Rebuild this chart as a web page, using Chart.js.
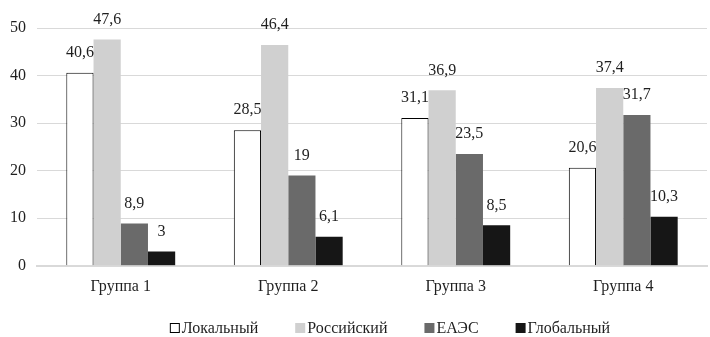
<!DOCTYPE html>
<html>
<head>
<meta charset="utf-8">
<script src="https://cdn.jsdelivr.net/npm/chart.js@4.4.1/dist/chart.umd.min.js"></script>
<style>
  html, body { margin: 0; padding: 0; background: #fff; }
  #wrap { width: 710px; height: 337px; }
</style>
</head>
<body>
<div id="wrap"><canvas id="c" width="710" height="337"></canvas></div>
<script>
// Categories and series
const groups = ['Группа 1', 'Группа 2', 'Группа 3', 'Группа 4'];
const seriesNames = ['Локальный', 'Российский', 'ЕАЭС', 'Глобальный'];
const localValues = [40.6, 28.5, 31.1, 20.6];
const russianValues = [47.6, 46.4, 36.9, 37.4];
const eaeuValues = [8.9, 19, 23.5, 31.7];
const globalValues = [3, 6.1, 8.5, 10.3];
const yTicks = [0, 10, 20, 30, 40, 50];

const FONT = '"Liberation Serif", "Times New Roman", serif';
const TEXT = '#1f1f1f';

const fmt = v => String(v).replace('.', ',');

// Value labels above each bar
const valueLabels = {
  id: 'valueLabels',
  afterDatasetsDraw(chart) {
    const ctx = chart.ctx;
    ctx.save();
    ctx.font = '16px ' + FONT;
    ctx.fillStyle = TEXT;
    ctx.textAlign = 'center';
    ctx.textBaseline = 'middle';
    chart.data.datasets.forEach((ds, i) => {
      chart.getDatasetMeta(i).data.forEach((bar, j) => {
        ctx.fillText(fmt(ds.data[j]), bar.x, bar.y - 20);
      });
    });
    ctx.restore();
  }
};

// Legend row along the bottom edge
const bottomLegend = {
  id: 'bottomLegend',
  afterDraw(chart) {
    const ctx = chart.ctx;
    const box = 10, gapText = 2, gapItem = 37;
    ctx.save();
    ctx.font = '16px ' + FONT;
    ctx.textBaseline = 'middle';
    const items = chart.data.datasets.map(ds => ({
      label: ds.label, fill: ds.backgroundColor,
      w: box + gapText + ctx.measureText(ds.label).width
    }));
    const total = items.reduce((s, it) => s + it.w, 0) + gapItem * (items.length - 1);
    let x = 390 - total / 2;
    const cy = 328;
    items.forEach(it => {
      ctx.fillStyle = it.fill;
      ctx.fillRect(x, cy - box / 2, box, box);
      if (it.fill === '#ffffff') {
        ctx.strokeStyle = '#000';
        ctx.lineWidth = 1;
        ctx.strokeRect(x + 0.5, cy - box / 2 + 0.5, box - 1, box - 1);
      }
      ctx.fillStyle = TEXT;
      ctx.fillText(it.label, x + box + gapText, cy + 1);
      x += it.w + gapItem;
    });
    ctx.restore();
  }
};

new Chart(document.getElementById('c'), {
  type: 'bar',
  data: {
    labels: groups,
    datasets: [
      { label: seriesNames[0], data: localValues, backgroundColor: '#ffffff', borderColor: '#000000', borderWidth: 1 },
      { label: seriesNames[1], data: russianValues, backgroundColor: '#d0d0d0', borderWidth: 0 },
      { label: seriesNames[2], data: eaeuValues, backgroundColor: '#6a6a6a', borderWidth: 0 },
      { label: seriesNames[3], data: globalValues, backgroundColor: '#161616', borderWidth: 0 }
    ]
  },
  options: {
    responsive: false,
    animation: false,
    layout: { padding: { top: 28, right: 3, left: 0, bottom: 38 } },
    datasets: { bar: { categoryPercentage: 0.65, barPercentage: 1.0 } },
    plugins: { legend: { display: false }, tooltip: { enabled: false } },
    scales: {
      x: {
        grid: { display: false },
        border: { display: true, color: '#d9d9d9', width: 2 },
        ticks: { font: { family: FONT, size: 16 }, color: TEXT, padding: 3 }
      },
      y: {
        min: 0, max: 50,
        afterBuildTicks(s) { s.ticks = yTicks.map(v => ({ value: v })); },
        grid: { color: '#d9d9d9', drawTicks: false },
        border: { display: false },
        ticks: { font: { family: FONT, size: 16 }, color: TEXT, padding: 11 },
        afterFit(s) { s.width = 37; }
      }
    }
  },
  plugins: [valueLabels, bottomLegend]
});
</script>
</body>
</html>
